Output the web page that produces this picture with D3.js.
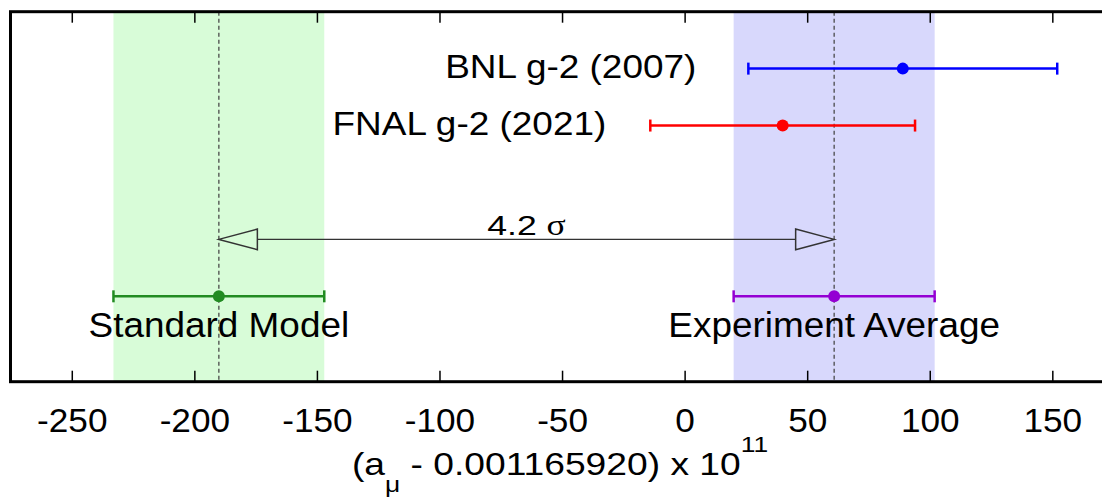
<!DOCTYPE html>
<html><head><meta charset="utf-8">
<script src="https://cdn.jsdelivr.net/npm/d3@7"></script>
<style>
body{margin:0;background:#fff}
text{font-family:"Liberation Sans",Arial,Helvetica,sans-serif;fill:#000}
</style>
</head><body>
<svg id="chart" width="1102" height="497"></svg>
<script>
// ---- data ----
const experiments = ["BNL g-2 (2007)", "FNAL g-2 (2021)"];
const expValues = [89, 40];
const expLow = [26, -14];
const expHigh = [152, 94];
const expRows = [5.5, 4.5];

const refNames = ["Standard Model", "Experiment Average"];
const refValues = [-190, 61];
const refLow = [-233, 20];
const refHigh = [-147, 102];
const refRow = 1.5;
const refLabelRow = 1.0;

const tensionLabel = "4.2";
const tensionRow = 2.5;

const xTicks = [-250, -200, -150, -100, -50, 0, 50, 100, 150];
const xDomain = [-275, 175];
const yDomain = [0, 6.5];

// ---- drawing ----
const svg = d3.select("#chart");
const x = d3.scaleLinear().domain(xDomain).range([10.5, 1113.6]);
const y = d3.scaleLinear().domain(yDomain).range([381.7, 11.7]);
const yTop = y(yDomain[1]), yBottom = y(yDomain[0]);

const expColors = ["#0000ff", "#ff0000"];
const refColors = ["#228b22", "#9400d3"];
const bandColors = ["#d8fcd8", "#d8d8fc"];

// stretched text helper (reference font is slightly wider than Liberation Sans)
function label(px, py, str, size, sx, anchor) {
  return svg.append("text")
    .attr("transform", `translate(${px},${py}) scale(${sx},1)`)
    .attr("text-anchor", anchor).attr("font-size", size).text(str);
}

// bands
svg.selectAll("rect.band").data(refValues).join("rect")
  .attr("class", "band")
  .attr("x", (d, i) => x(refLow[i]))
  .attr("width", (d, i) => x(refHigh[i]) - x(refLow[i]))
  .attr("y", yTop).attr("height", yBottom - yTop)
  .attr("fill", (d, i) => bandColors[i]);

// dashed centre lines
svg.selectAll("line.center").data(refValues).join("line")
  .attr("class", "center")
  .attr("x1", d => x(d)).attr("x2", d => x(d))
  .attr("y1", yTop).attr("y2", yBottom)
  .attr("stroke", "#4a4a4a").attr("stroke-width", 1.3)
  .attr("stroke-dasharray", "4,3");

// tension arrow
const ay = y(tensionRow);
const headLen = 38.5, headHalf = 10.3;
const xa = x(refValues[0]), xb = x(refValues[1]);
svg.append("line")
  .attr("x1", xa + headLen).attr("x2", xb - headLen)
  .attr("y1", ay).attr("y2", ay)
  .attr("stroke", "#333").attr("stroke-width", 1.3);
svg.append("path")
  .attr("d", `M${xa},${ay}L${xa + headLen},${ay - headHalf}L${xa + headLen},${ay + headHalf}Z`)
  .attr("fill", "none").attr("stroke", "#333").attr("stroke-width", 1.5);
svg.append("path")
  .attr("d", `M${xb},${ay}L${xb - headLen},${ay - headHalf}L${xb - headLen},${ay + headHalf}Z`)
  .attr("fill", "none").attr("stroke", "#333").attr("stroke-width", 1.5);
const tt = label((xa + xb) / 2, ay - 4.5, null, 28.5, 1.25, "middle");
tt.append("tspan").text(tensionLabel + " ");
tt.append("tspan").attr("font-family", "'Liberation Serif','DejaVu Serif',serif").text("σ");

// error bars helper
function errorBar(g, lo, hi, v, yy, color) {
  g.append("line").attr("x1", x(lo)).attr("x2", x(hi)).attr("y1", yy).attr("y2", yy)
    .attr("stroke", color).attr("stroke-width", 2.5);
  [lo, hi].forEach(e => g.append("line").attr("x1", x(e)).attr("x2", x(e))
    .attr("y1", yy - 6).attr("y2", yy + 6).attr("stroke", color).attr("stroke-width", 2.5));
  g.append("circle").attr("cx", x(v)).attr("cy", yy).attr("r", 6).attr("fill", color);
}

const labelGaps = [52, 44];
experiments.forEach((name, i) => {
  const g = svg.append("g");
  errorBar(g, expLow[i], expHigh[i], expValues[i], y(expRows[i]), expColors[i]);
  label(x(expLow[i]) - labelGaps[i], y(expRows[i]) + 9.5, name, 33, 1.12, "end");
});
refNames.forEach((name, i) => {
  const g = svg.append("g");
  errorBar(g, refLow[i], refHigh[i], refValues[i], y(refRow), refColors[i]);
  label(x(refValues[i]), y(refLabelRow) + 12, name, 34.5, 1.07, "middle");
});

// axes (inward ticks)
const axB = svg.append("g").attr("transform", `translate(0,${yBottom})`)
  .call(d3.axisBottom(x).tickValues(xTicks).tickSizeInner(-11).tickSizeOuter(0).tickPadding(26.6));
axB.select(".domain").remove();
axB.selectAll(".tick line").attr("stroke", "#000").attr("stroke-width", 1.5);
axB.selectAll(".tick text").attr("font-size", 33.5).attr("font-family", null)
  .attr("transform", "scale(1.05,1)")
  .text(d => d < 0 ? "-" + Math.abs(d) : d);
const axT = svg.append("g").attr("transform", `translate(0,${yTop})`)
  .call(d3.axisTop(x).tickValues(xTicks).tickSizeInner(-11).tickSizeOuter(0).tickFormat(""));
axT.select(".domain").remove();
axT.selectAll(".tick line").attr("stroke", "#000").attr("stroke-width", 1.5);

// frame
svg.append("rect").attr("x", x(xDomain[0])).attr("y", yTop)
  .attr("width", x(xDomain[1]) - x(xDomain[0])).attr("height", yBottom - yTop)
  .attr("fill", "none").attr("stroke", "#000").attr("stroke-width", 3);

// axis title
const title = label(560, 475, null, 31, 1.2, "middle");
title.append("tspan").text("(a");
title.append("tspan").attr("font-size", 22).attr("dy", 17).text("μ");
title.append("tspan").attr("dy", -17).text(" - 0.001165920) x 10");
title.append("tspan").attr("font-size", 22).attr("dy", -23).text("11");
</script>
</body></html>
